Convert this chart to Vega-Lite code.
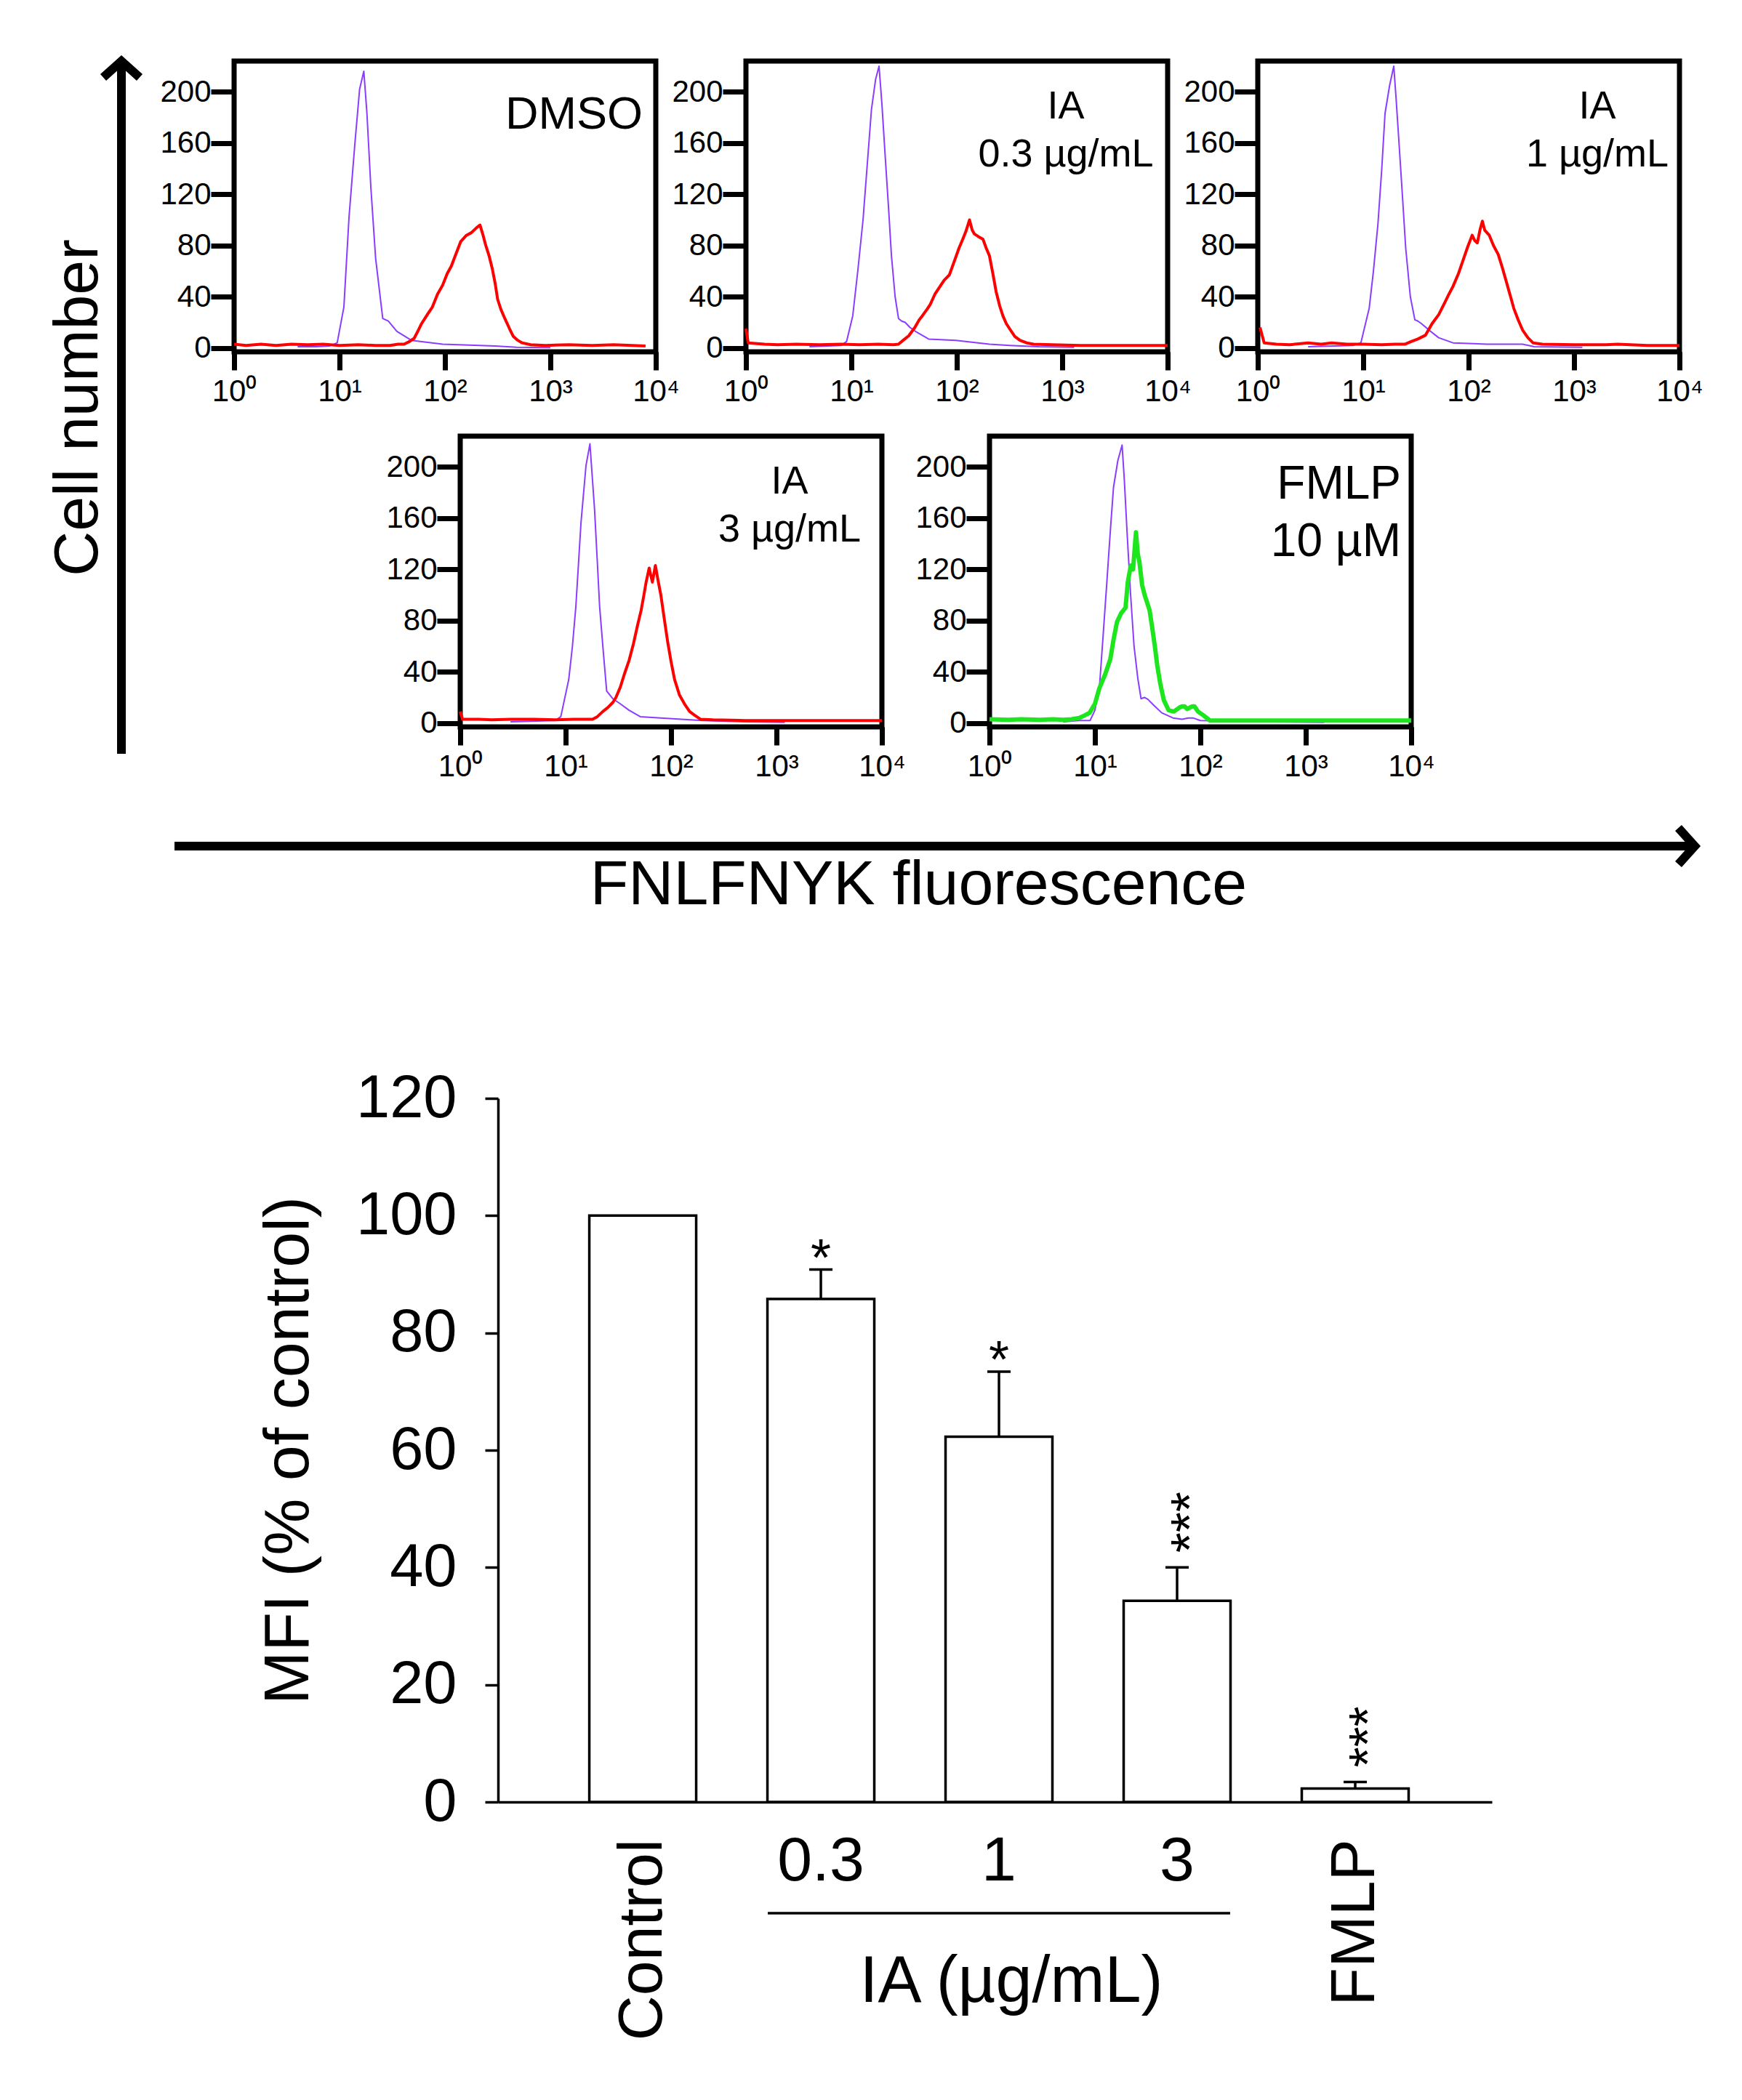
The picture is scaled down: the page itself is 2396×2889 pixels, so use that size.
{
  "$schema": "https://vega.github.io/schema/vega-lite/v6.json",
  "background": "white",
  "padding": {"left": 64, "top": 60, "right": 20, "bottom": 20},
  "config": {
    "font": "Liberation Sans",
    "view": {"stroke": "black", "strokeWidth": 7},
    "axis": {"grid": false, "domain": false, "labelFont": "Liberation Sans", "labelColor": "black", "tickColor": "black", "titleColor": "black", "titleFont": "Liberation Sans", "titleFontWeight": "normal", "labelFlush": false, "labelOverlap": false},
    "axisX": {"tickSize": 25, "tickWidth": 7, "labelFontSize": 42, "labelPadding": 9},
    "axisY": {"tickSize": 32, "tickWidth": 7, "labelFontSize": 42, "labelPadding": 0},
    "title": {"font": "Liberation Sans", "fontWeight": "normal", "color": "black", "offset": 0}
  },
  "datasets": {
    "arrow": [{"from": 0, "to": 1}],
    "mfi": [
      {"group": "Control", "mfi": 100, "upper": null, "sig": null},
      {"group": "0.3", "mfi": 85.8, "upper": 90.8, "sig": "*"},
      {"group": "1", "mfi": 62.3, "upper": 73.4, "sig": "*"},
      {"group": "3", "mfi": 34.3, "upper": 40.0, "sig": "***"},
      {"group": "FMLP", "mfi": 2.3, "upper": 3.4, "sig": "***"}
    ],
    "ia": [{"from": "0.3", "to": "3", "mid": "1", "label": "IA (µg/mL)"}],
    "hist": [
      {"panel": "DMSO", "series": "ctrl", "x": 4, "y": 1},
      {"panel": "DMSO", "series": "ctrl", "x": 6, "y": 1},
      {"panel": "DMSO", "series": "ctrl", "x": 8, "y": 1.5},
      {"panel": "DMSO", "series": "ctrl", "x": 9.5, "y": 4},
      {"panel": "DMSO", "series": "ctrl", "x": 11, "y": 32},
      {"panel": "DMSO", "series": "ctrl", "x": 12.3, "y": 102},
      {"panel": "DMSO", "series": "ctrl", "x": 13.9, "y": 157},
      {"panel": "DMSO", "series": "ctrl", "x": 15.5, "y": 202},
      {"panel": "DMSO", "series": "ctrl", "x": 17, "y": 216},
      {"panel": "DMSO", "series": "ctrl", "x": 18.2, "y": 183},
      {"panel": "DMSO", "series": "ctrl", "x": 19.8, "y": 126},
      {"panel": "DMSO", "series": "ctrl", "x": 22, "y": 70},
      {"panel": "DMSO", "series": "ctrl", "x": 25.7, "y": 23},
      {"panel": "DMSO", "series": "ctrl", "x": 29, "y": 21},
      {"panel": "DMSO", "series": "ctrl", "x": 35, "y": 13},
      {"panel": "DMSO", "series": "ctrl", "x": 48, "y": 6},
      {"panel": "DMSO", "series": "ctrl", "x": 95, "y": 3},
      {"panel": "DMSO", "series": "ctrl", "x": 300, "y": 1.5},
      {"panel": "DMSO", "series": "ctrl", "x": 480, "y": 0.5},
      {"panel": "DMSO", "series": "ctrl", "x": 1000, "y": 0.3},
      {"panel": "DMSO", "series": "treat", "x": 1, "y": 3},
      {"panel": "DMSO", "series": "treat", "x": 1.3, "y": 2},
      {"panel": "DMSO", "series": "treat", "x": 1.8, "y": 3},
      {"panel": "DMSO", "series": "treat", "x": 2.5, "y": 2},
      {"panel": "DMSO", "series": "treat", "x": 3.5, "y": 3},
      {"panel": "DMSO", "series": "treat", "x": 5, "y": 2.5},
      {"panel": "DMSO", "series": "treat", "x": 7, "y": 3},
      {"panel": "DMSO", "series": "treat", "x": 10, "y": 2},
      {"panel": "DMSO", "series": "treat", "x": 15, "y": 2.5},
      {"panel": "DMSO", "series": "treat", "x": 22, "y": 2},
      {"panel": "DMSO", "series": "treat", "x": 30, "y": 2},
      {"panel": "DMSO", "series": "treat", "x": 36, "y": 3},
      {"panel": "DMSO", "series": "treat", "x": 41, "y": 3},
      {"panel": "DMSO", "series": "treat", "x": 46, "y": 5},
      {"panel": "DMSO", "series": "treat", "x": 51, "y": 7.5},
      {"panel": "DMSO", "series": "treat", "x": 56, "y": 14},
      {"panel": "DMSO", "series": "treat", "x": 60, "y": 19},
      {"panel": "DMSO", "series": "treat", "x": 68, "y": 26},
      {"panel": "DMSO", "series": "treat", "x": 76, "y": 32},
      {"panel": "DMSO", "series": "treat", "x": 85, "y": 42},
      {"panel": "DMSO", "series": "treat", "x": 95, "y": 49},
      {"panel": "DMSO", "series": "treat", "x": 105, "y": 58},
      {"panel": "DMSO", "series": "treat", "x": 115, "y": 64},
      {"panel": "DMSO", "series": "treat", "x": 128, "y": 74},
      {"panel": "DMSO", "series": "treat", "x": 141, "y": 83},
      {"panel": "DMSO", "series": "treat", "x": 160, "y": 88},
      {"panel": "DMSO", "series": "treat", "x": 178, "y": 90},
      {"panel": "DMSO", "series": "treat", "x": 200, "y": 94},
      {"panel": "DMSO", "series": "treat", "x": 215, "y": 96},
      {"panel": "DMSO", "series": "treat", "x": 230, "y": 88},
      {"panel": "DMSO", "series": "treat", "x": 242, "y": 81},
      {"panel": "DMSO", "series": "treat", "x": 262, "y": 72},
      {"panel": "DMSO", "series": "treat", "x": 281, "y": 62},
      {"panel": "DMSO", "series": "treat", "x": 300, "y": 50},
      {"panel": "DMSO", "series": "treat", "x": 316, "y": 38},
      {"panel": "DMSO", "series": "treat", "x": 340, "y": 30},
      {"panel": "DMSO", "series": "treat", "x": 370, "y": 23},
      {"panel": "DMSO", "series": "treat", "x": 410, "y": 15},
      {"panel": "DMSO", "series": "treat", "x": 445, "y": 9},
      {"panel": "DMSO", "series": "treat", "x": 490, "y": 6},
      {"panel": "DMSO", "series": "treat", "x": 540, "y": 4},
      {"panel": "DMSO", "series": "treat", "x": 650, "y": 2.5},
      {"panel": "DMSO", "series": "treat", "x": 900, "y": 2},
      {"panel": "DMSO", "series": "treat", "x": 1500, "y": 2.5},
      {"panel": "DMSO", "series": "treat", "x": 2500, "y": 2},
      {"panel": "DMSO", "series": "treat", "x": 4000, "y": 2.5},
      {"panel": "DMSO", "series": "treat", "x": 6000, "y": 2},
      {"panel": "DMSO", "series": "treat", "x": 8000, "y": 1.5},
      {"panel": "IA03", "series": "ctrl", "x": 4, "y": 1},
      {"panel": "IA03", "series": "ctrl", "x": 8, "y": 2},
      {"panel": "IA03", "series": "ctrl", "x": 9, "y": 5},
      {"panel": "IA03", "series": "ctrl", "x": 10.3, "y": 25},
      {"panel": "IA03", "series": "ctrl", "x": 11.5, "y": 60},
      {"panel": "IA03", "series": "ctrl", "x": 12.9, "y": 100},
      {"panel": "IA03", "series": "ctrl", "x": 14.2, "y": 145},
      {"panel": "IA03", "series": "ctrl", "x": 15.5, "y": 186},
      {"panel": "IA03", "series": "ctrl", "x": 17, "y": 210},
      {"panel": "IA03", "series": "ctrl", "x": 18.3, "y": 220},
      {"panel": "IA03", "series": "ctrl", "x": 19.5, "y": 190},
      {"panel": "IA03", "series": "ctrl", "x": 21, "y": 148},
      {"panel": "IA03", "series": "ctrl", "x": 22.5, "y": 110},
      {"panel": "IA03", "series": "ctrl", "x": 24, "y": 72},
      {"panel": "IA03", "series": "ctrl", "x": 26, "y": 40},
      {"panel": "IA03", "series": "ctrl", "x": 28, "y": 23},
      {"panel": "IA03", "series": "ctrl", "x": 30, "y": 21},
      {"panel": "IA03", "series": "ctrl", "x": 32.4, "y": 20},
      {"panel": "IA03", "series": "ctrl", "x": 36, "y": 16},
      {"panel": "IA03", "series": "ctrl", "x": 40.5, "y": 13},
      {"panel": "IA03", "series": "ctrl", "x": 54, "y": 7},
      {"panel": "IA03", "series": "ctrl", "x": 98, "y": 6},
      {"panel": "IA03", "series": "ctrl", "x": 204, "y": 3},
      {"panel": "IA03", "series": "ctrl", "x": 317, "y": 2},
      {"panel": "IA03", "series": "ctrl", "x": 600, "y": 1},
      {"panel": "IA03", "series": "ctrl", "x": 1300, "y": 0.5},
      {"panel": "IA03", "series": "treat", "x": 1, "y": 15},
      {"panel": "IA03", "series": "treat", "x": 1.05, "y": 4},
      {"panel": "IA03", "series": "treat", "x": 1.5, "y": 3},
      {"panel": "IA03", "series": "treat", "x": 2, "y": 2.5},
      {"panel": "IA03", "series": "treat", "x": 3, "y": 3},
      {"panel": "IA03", "series": "treat", "x": 5, "y": 2.5},
      {"panel": "IA03", "series": "treat", "x": 8, "y": 3},
      {"panel": "IA03", "series": "treat", "x": 12, "y": 2.5},
      {"panel": "IA03", "series": "treat", "x": 18, "y": 3},
      {"panel": "IA03", "series": "treat", "x": 25, "y": 2.5},
      {"panel": "IA03", "series": "treat", "x": 28, "y": 3},
      {"panel": "IA03", "series": "treat", "x": 31, "y": 6},
      {"panel": "IA03", "series": "treat", "x": 35, "y": 9.5},
      {"panel": "IA03", "series": "treat", "x": 40, "y": 16},
      {"panel": "IA03", "series": "treat", "x": 44, "y": 22},
      {"panel": "IA03", "series": "treat", "x": 47, "y": 25},
      {"panel": "IA03", "series": "treat", "x": 52, "y": 30},
      {"panel": "IA03", "series": "treat", "x": 56, "y": 34},
      {"panel": "IA03", "series": "treat", "x": 62, "y": 42},
      {"panel": "IA03", "series": "treat", "x": 68, "y": 47},
      {"panel": "IA03", "series": "treat", "x": 76, "y": 53},
      {"panel": "IA03", "series": "treat", "x": 85, "y": 57},
      {"panel": "IA03", "series": "treat", "x": 95, "y": 68},
      {"panel": "IA03", "series": "treat", "x": 105, "y": 78},
      {"panel": "IA03", "series": "treat", "x": 114, "y": 85},
      {"panel": "IA03", "series": "treat", "x": 122, "y": 91},
      {"panel": "IA03", "series": "treat", "x": 132, "y": 100},
      {"panel": "IA03", "series": "treat", "x": 140, "y": 92},
      {"panel": "IA03", "series": "treat", "x": 147, "y": 89},
      {"panel": "IA03", "series": "treat", "x": 160, "y": 87},
      {"panel": "IA03", "series": "treat", "x": 177, "y": 85},
      {"panel": "IA03", "series": "treat", "x": 190, "y": 78},
      {"panel": "IA03", "series": "treat", "x": 204, "y": 72},
      {"panel": "IA03", "series": "treat", "x": 220, "y": 58},
      {"panel": "IA03", "series": "treat", "x": 236, "y": 44},
      {"panel": "IA03", "series": "treat", "x": 255, "y": 33},
      {"panel": "IA03", "series": "treat", "x": 274, "y": 25},
      {"panel": "IA03", "series": "treat", "x": 295, "y": 19},
      {"panel": "IA03", "series": "treat", "x": 317, "y": 15},
      {"panel": "IA03", "series": "treat", "x": 355, "y": 9},
      {"panel": "IA03", "series": "treat", "x": 397, "y": 6},
      {"panel": "IA03", "series": "treat", "x": 460, "y": 4},
      {"panel": "IA03", "series": "treat", "x": 535, "y": 3},
      {"panel": "IA03", "series": "treat", "x": 800, "y": 2.5},
      {"panel": "IA03", "series": "treat", "x": 1500, "y": 2},
      {"panel": "IA03", "series": "treat", "x": 3000, "y": 2},
      {"panel": "IA03", "series": "treat", "x": 6000, "y": 2},
      {"panel": "IA03", "series": "treat", "x": 10000, "y": 2},
      {"panel": "IA1", "series": "ctrl", "x": 3, "y": 1},
      {"panel": "IA1", "series": "ctrl", "x": 8, "y": 2},
      {"panel": "IA1", "series": "ctrl", "x": 9.5, "y": 4},
      {"panel": "IA1", "series": "ctrl", "x": 11.4, "y": 31},
      {"panel": "IA1", "series": "ctrl", "x": 12.5, "y": 60},
      {"panel": "IA1", "series": "ctrl", "x": 13.8, "y": 97},
      {"panel": "IA1", "series": "ctrl", "x": 15, "y": 140},
      {"panel": "IA1", "series": "ctrl", "x": 16.1, "y": 183},
      {"panel": "IA1", "series": "ctrl", "x": 17.8, "y": 205},
      {"panel": "IA1", "series": "ctrl", "x": 19.5, "y": 220},
      {"panel": "IA1", "series": "ctrl", "x": 20.5, "y": 195},
      {"panel": "IA1", "series": "ctrl", "x": 21.7, "y": 164},
      {"panel": "IA1", "series": "ctrl", "x": 23.5, "y": 120},
      {"panel": "IA1", "series": "ctrl", "x": 25.3, "y": 78},
      {"panel": "IA1", "series": "ctrl", "x": 28, "y": 40},
      {"panel": "IA1", "series": "ctrl", "x": 30.9, "y": 22},
      {"panel": "IA1", "series": "ctrl", "x": 33, "y": 21},
      {"panel": "IA1", "series": "ctrl", "x": 35.7, "y": 19},
      {"panel": "IA1", "series": "ctrl", "x": 42, "y": 14},
      {"panel": "IA1", "series": "ctrl", "x": 52, "y": 8},
      {"panel": "IA1", "series": "ctrl", "x": 71, "y": 4},
      {"panel": "IA1", "series": "ctrl", "x": 150, "y": 3},
      {"panel": "IA1", "series": "ctrl", "x": 325, "y": 3},
      {"panel": "IA1", "series": "ctrl", "x": 420, "y": 1},
      {"panel": "IA1", "series": "ctrl", "x": 1200, "y": 0.5},
      {"panel": "IA1", "series": "treat", "x": 1.05, "y": 16},
      {"panel": "IA1", "series": "treat", "x": 1.15, "y": 4},
      {"panel": "IA1", "series": "treat", "x": 1.5, "y": 3},
      {"panel": "IA1", "series": "treat", "x": 2, "y": 2.5},
      {"panel": "IA1", "series": "treat", "x": 3, "y": 4},
      {"panel": "IA1", "series": "treat", "x": 4, "y": 3},
      {"panel": "IA1", "series": "treat", "x": 5, "y": 4},
      {"panel": "IA1", "series": "treat", "x": 7, "y": 3},
      {"panel": "IA1", "series": "treat", "x": 10, "y": 3},
      {"panel": "IA1", "series": "treat", "x": 15, "y": 2.5},
      {"panel": "IA1", "series": "treat", "x": 20, "y": 3},
      {"panel": "IA1", "series": "treat", "x": 25, "y": 3},
      {"panel": "IA1", "series": "treat", "x": 28.5, "y": 5},
      {"panel": "IA1", "series": "treat", "x": 33, "y": 7},
      {"panel": "IA1", "series": "treat", "x": 39, "y": 10},
      {"panel": "IA1", "series": "treat", "x": 45, "y": 19},
      {"panel": "IA1", "series": "treat", "x": 52, "y": 26},
      {"panel": "IA1", "series": "treat", "x": 59, "y": 35},
      {"panel": "IA1", "series": "treat", "x": 65, "y": 42},
      {"panel": "IA1", "series": "treat", "x": 71, "y": 48},
      {"panel": "IA1", "series": "treat", "x": 80, "y": 58},
      {"panel": "IA1", "series": "treat", "x": 89, "y": 69},
      {"panel": "IA1", "series": "treat", "x": 98, "y": 79},
      {"panel": "IA1", "series": "treat", "x": 108, "y": 88},
      {"panel": "IA1", "series": "treat", "x": 114, "y": 84},
      {"panel": "IA1", "series": "treat", "x": 121, "y": 82},
      {"panel": "IA1", "series": "treat", "x": 128, "y": 92},
      {"panel": "IA1", "series": "treat", "x": 135, "y": 99},
      {"panel": "IA1", "series": "treat", "x": 142, "y": 92},
      {"panel": "IA1", "series": "treat", "x": 157, "y": 88},
      {"panel": "IA1", "series": "treat", "x": 172, "y": 80},
      {"panel": "IA1", "series": "treat", "x": 191, "y": 73},
      {"panel": "IA1", "series": "treat", "x": 210, "y": 62},
      {"panel": "IA1", "series": "treat", "x": 231, "y": 50},
      {"panel": "IA1", "series": "treat", "x": 250, "y": 40},
      {"panel": "IA1", "series": "treat", "x": 268, "y": 31},
      {"panel": "IA1", "series": "treat", "x": 295, "y": 22},
      {"panel": "IA1", "series": "treat", "x": 325, "y": 14},
      {"panel": "IA1", "series": "treat", "x": 365, "y": 8},
      {"panel": "IA1", "series": "treat", "x": 408, "y": 4},
      {"panel": "IA1", "series": "treat", "x": 500, "y": 3},
      {"panel": "IA1", "series": "treat", "x": 1000, "y": 2.5},
      {"panel": "IA1", "series": "treat", "x": 2000, "y": 2.5},
      {"panel": "IA1", "series": "treat", "x": 2600, "y": 3},
      {"panel": "IA1", "series": "treat", "x": 5000, "y": 2},
      {"panel": "IA1", "series": "treat", "x": 10000, "y": 2},
      {"panel": "IA3", "series": "ctrl", "x": 3, "y": 1},
      {"panel": "IA3", "series": "ctrl", "x": 8, "y": 2},
      {"panel": "IA3", "series": "ctrl", "x": 9, "y": 5},
      {"panel": "IA3", "series": "ctrl", "x": 10.7, "y": 34},
      {"panel": "IA3", "series": "ctrl", "x": 11.6, "y": 60},
      {"panel": "IA3", "series": "ctrl", "x": 12.5, "y": 91},
      {"panel": "IA3", "series": "ctrl", "x": 14, "y": 157},
      {"panel": "IA3", "series": "ctrl", "x": 15.6, "y": 201},
      {"panel": "IA3", "series": "ctrl", "x": 17, "y": 218},
      {"panel": "IA3", "series": "ctrl", "x": 18.8, "y": 167},
      {"panel": "IA3", "series": "ctrl", "x": 20, "y": 125},
      {"panel": "IA3", "series": "ctrl", "x": 21, "y": 91},
      {"panel": "IA3", "series": "ctrl", "x": 22.8, "y": 55},
      {"panel": "IA3", "series": "ctrl", "x": 24.5, "y": 25},
      {"panel": "IA3", "series": "ctrl", "x": 28, "y": 19},
      {"panel": "IA3", "series": "ctrl", "x": 33, "y": 15},
      {"panel": "IA3", "series": "ctrl", "x": 40, "y": 10},
      {"panel": "IA3", "series": "ctrl", "x": 51, "y": 5},
      {"panel": "IA3", "series": "ctrl", "x": 125, "y": 3},
      {"panel": "IA3", "series": "ctrl", "x": 200, "y": 2},
      {"panel": "IA3", "series": "ctrl", "x": 500, "y": 1},
      {"panel": "IA3", "series": "ctrl", "x": 1200, "y": 0.5},
      {"panel": "IA3", "series": "treat", "x": 1, "y": 9},
      {"panel": "IA3", "series": "treat", "x": 1.05, "y": 3},
      {"panel": "IA3", "series": "treat", "x": 1.5, "y": 3},
      {"panel": "IA3", "series": "treat", "x": 2, "y": 2.5},
      {"panel": "IA3", "series": "treat", "x": 3, "y": 3},
      {"panel": "IA3", "series": "treat", "x": 5, "y": 3},
      {"panel": "IA3", "series": "treat", "x": 8, "y": 2.5},
      {"panel": "IA3", "series": "treat", "x": 12, "y": 3},
      {"panel": "IA3", "series": "treat", "x": 18, "y": 3},
      {"panel": "IA3", "series": "treat", "x": 20, "y": 5},
      {"panel": "IA3", "series": "treat", "x": 22.5, "y": 9},
      {"panel": "IA3", "series": "treat", "x": 25, "y": 12},
      {"panel": "IA3", "series": "treat", "x": 28, "y": 16},
      {"panel": "IA3", "series": "treat", "x": 30, "y": 20},
      {"panel": "IA3", "series": "treat", "x": 33, "y": 28},
      {"panel": "IA3", "series": "treat", "x": 36, "y": 38},
      {"panel": "IA3", "series": "treat", "x": 40, "y": 49},
      {"panel": "IA3", "series": "treat", "x": 44, "y": 62},
      {"panel": "IA3", "series": "treat", "x": 48, "y": 76},
      {"panel": "IA3", "series": "treat", "x": 52, "y": 88},
      {"panel": "IA3", "series": "treat", "x": 55, "y": 99},
      {"panel": "IA3", "series": "treat", "x": 58, "y": 110},
      {"panel": "IA3", "series": "treat", "x": 62, "y": 121},
      {"panel": "IA3", "series": "treat", "x": 66.5, "y": 110},
      {"panel": "IA3", "series": "treat", "x": 71, "y": 123},
      {"panel": "IA3", "series": "treat", "x": 75, "y": 112},
      {"panel": "IA3", "series": "treat", "x": 80, "y": 100},
      {"panel": "IA3", "series": "treat", "x": 86, "y": 82},
      {"panel": "IA3", "series": "treat", "x": 93, "y": 63},
      {"panel": "IA3", "series": "treat", "x": 100, "y": 48},
      {"panel": "IA3", "series": "treat", "x": 108, "y": 34},
      {"panel": "IA3", "series": "treat", "x": 120, "y": 22},
      {"panel": "IA3", "series": "treat", "x": 134, "y": 15},
      {"panel": "IA3", "series": "treat", "x": 150, "y": 9},
      {"panel": "IA3", "series": "treat", "x": 168, "y": 6},
      {"panel": "IA3", "series": "treat", "x": 190, "y": 3},
      {"panel": "IA3", "series": "treat", "x": 250, "y": 2.5},
      {"panel": "IA3", "series": "treat", "x": 500, "y": 2},
      {"panel": "IA3", "series": "treat", "x": 1000, "y": 2},
      {"panel": "IA3", "series": "treat", "x": 3000, "y": 2},
      {"panel": "IA3", "series": "treat", "x": 10000, "y": 2},
      {"panel": "FMLP", "series": "ctrl", "x": 5, "y": 1},
      {"panel": "FMLP", "series": "ctrl", "x": 7, "y": 2},
      {"panel": "FMLP", "series": "ctrl", "x": 9, "y": 2},
      {"panel": "FMLP", "series": "ctrl", "x": 10, "y": 10},
      {"panel": "FMLP", "series": "ctrl", "x": 11.1, "y": 31},
      {"panel": "FMLP", "series": "ctrl", "x": 12, "y": 70},
      {"panel": "FMLP", "series": "ctrl", "x": 12.9, "y": 107},
      {"panel": "FMLP", "series": "ctrl", "x": 14, "y": 150},
      {"panel": "FMLP", "series": "ctrl", "x": 15, "y": 184},
      {"panel": "FMLP", "series": "ctrl", "x": 16.5, "y": 205},
      {"panel": "FMLP", "series": "ctrl", "x": 18.1, "y": 217},
      {"panel": "FMLP", "series": "ctrl", "x": 19, "y": 190},
      {"panel": "FMLP", "series": "ctrl", "x": 20.3, "y": 145},
      {"panel": "FMLP", "series": "ctrl", "x": 21.8, "y": 100},
      {"panel": "FMLP", "series": "ctrl", "x": 23.5, "y": 60},
      {"panel": "FMLP", "series": "ctrl", "x": 25.5, "y": 35},
      {"panel": "FMLP", "series": "ctrl", "x": 27.4, "y": 19},
      {"panel": "FMLP", "series": "ctrl", "x": 29.5, "y": 20},
      {"panel": "FMLP", "series": "ctrl", "x": 31.8, "y": 18.5},
      {"panel": "FMLP", "series": "ctrl", "x": 36, "y": 14},
      {"panel": "FMLP", "series": "ctrl", "x": 43, "y": 8},
      {"panel": "FMLP", "series": "ctrl", "x": 55, "y": 4},
      {"panel": "FMLP", "series": "ctrl", "x": 67, "y": 3},
      {"panel": "FMLP", "series": "ctrl", "x": 77, "y": 4},
      {"panel": "FMLP", "series": "ctrl", "x": 85, "y": 4},
      {"panel": "FMLP", "series": "ctrl", "x": 100, "y": 2},
      {"panel": "FMLP", "series": "ctrl", "x": 200, "y": 1.5},
      {"panel": "FMLP", "series": "ctrl", "x": 500, "y": 1},
      {"panel": "FMLP", "series": "ctrl", "x": 1500, "y": 0.5},
      {"panel": "FMLP", "series": "fmlp", "x": 1, "y": 3},
      {"panel": "FMLP", "series": "fmlp", "x": 1.5, "y": 2.5},
      {"panel": "FMLP", "series": "fmlp", "x": 2, "y": 3},
      {"panel": "FMLP", "series": "fmlp", "x": 3, "y": 2.5},
      {"panel": "FMLP", "series": "fmlp", "x": 4, "y": 3},
      {"panel": "FMLP", "series": "fmlp", "x": 5, "y": 2.5},
      {"panel": "FMLP", "series": "fmlp", "x": 6, "y": 3},
      {"panel": "FMLP", "series": "fmlp", "x": 7.1, "y": 4},
      {"panel": "FMLP", "series": "fmlp", "x": 8, "y": 6},
      {"panel": "FMLP", "series": "fmlp", "x": 8.9, "y": 8},
      {"panel": "FMLP", "series": "fmlp", "x": 10, "y": 15},
      {"panel": "FMLP", "series": "fmlp", "x": 11, "y": 27},
      {"panel": "FMLP", "series": "fmlp", "x": 12.5, "y": 38},
      {"panel": "FMLP", "series": "fmlp", "x": 14, "y": 50},
      {"panel": "FMLP", "series": "fmlp", "x": 15, "y": 65},
      {"panel": "FMLP", "series": "fmlp", "x": 16.2, "y": 79},
      {"panel": "FMLP", "series": "fmlp", "x": 17.8, "y": 86},
      {"panel": "FMLP", "series": "fmlp", "x": 19.5, "y": 90},
      {"panel": "FMLP", "series": "fmlp", "x": 20.5, "y": 110},
      {"panel": "FMLP", "series": "fmlp", "x": 21.9, "y": 123},
      {"panel": "FMLP", "series": "fmlp", "x": 23, "y": 120},
      {"panel": "FMLP", "series": "fmlp", "x": 24.5, "y": 149},
      {"panel": "FMLP", "series": "fmlp", "x": 25.5, "y": 132},
      {"panel": "FMLP", "series": "fmlp", "x": 26.4, "y": 126},
      {"panel": "FMLP", "series": "fmlp", "x": 28, "y": 108},
      {"panel": "FMLP", "series": "fmlp", "x": 29.6, "y": 100},
      {"panel": "FMLP", "series": "fmlp", "x": 31, "y": 95},
      {"panel": "FMLP", "series": "fmlp", "x": 33, "y": 88},
      {"panel": "FMLP", "series": "fmlp", "x": 35, "y": 74},
      {"panel": "FMLP", "series": "fmlp", "x": 37, "y": 60},
      {"panel": "FMLP", "series": "fmlp", "x": 39, "y": 45},
      {"panel": "FMLP", "series": "fmlp", "x": 41.6, "y": 31},
      {"panel": "FMLP", "series": "fmlp", "x": 45, "y": 18},
      {"panel": "FMLP", "series": "fmlp", "x": 50, "y": 10},
      {"panel": "FMLP", "series": "fmlp", "x": 56, "y": 9},
      {"panel": "FMLP", "series": "fmlp", "x": 63, "y": 12},
      {"panel": "FMLP", "series": "fmlp", "x": 67, "y": 13},
      {"panel": "FMLP", "series": "fmlp", "x": 71, "y": 13},
      {"panel": "FMLP", "series": "fmlp", "x": 75, "y": 11},
      {"panel": "FMLP", "series": "fmlp", "x": 79, "y": 12},
      {"panel": "FMLP", "series": "fmlp", "x": 84, "y": 13},
      {"panel": "FMLP", "series": "fmlp", "x": 88, "y": 13},
      {"panel": "FMLP", "series": "fmlp", "x": 95, "y": 9},
      {"panel": "FMLP", "series": "fmlp", "x": 107, "y": 6},
      {"panel": "FMLP", "series": "fmlp", "x": 123, "y": 2},
      {"panel": "FMLP", "series": "fmlp", "x": 200, "y": 2},
      {"panel": "FMLP", "series": "fmlp", "x": 500, "y": 2},
      {"panel": "FMLP", "series": "fmlp", "x": 1000, "y": 2},
      {"panel": "FMLP", "series": "fmlp", "x": 3000, "y": 2},
      {"panel": "FMLP", "series": "fmlp", "x": 10000, "y": 2}
    ]
  },
  "spacing": 210,
  "vconcat": [
    {
      "spacing": 36,
      "vconcat": [
        {
          "spacing": 0,
          "hconcat": [
            {
              "width": 52,
              "height": 953,
              "view": {"stroke": null},
              "data": {"name": "arrow"},
              "layer": [
                {
                  "mark": {"type": "rule", "strokeWidth": 12, "color": "black"},
                  "encoding": {
                    "y": {"field": "from", "type": "quantitative", "scale": {"domain": [0, 1], "nice": false}, "axis": {"title": "Cell number", "labels": false, "ticks": false, "domain": false, "titleFontSize": 86, "titlePadding": -10}},
                    "y2": {"field": "to"}
                  }
                },
                {
                  "mark": {"type": "point", "shape": "M -1 0.9 L 0 0 L 1 0.9", "size": 2500, "filled": false, "stroke": "black", "strokeWidth": 12, "opacity": 1, "strokeJoin": "miter"},
                  "encoding": {"y": {"field": "to", "type": "quantitative"}}
                }
              ]
            },
            {
              "spacing": 33,
              "vconcat": [
                {
                  "bounds": "flush",
                  "spacing": 124,
                  "hconcat": [
                    {
                      "width": 580, "height": 400,
                      "data": {"name": "hist"},
                      "transform": [{"filter": "datum.panel === 'DMSO'"}],
                      "title": {"text": "DMSO", "anchor": "end", "frame": "group", "align": "right", "baseline": "top", "dx": -18, "dy": 110, "fontSize": 63},
                      "mark": {"type": "line", "strokeJoin": "round"},
                      "encoding": {
                        "x": {"field": "x", "type": "quantitative", "scale": {"type": "log", "domain": [1, 10000], "nice": false}, "axis": {"values": [1, 10, 100, 1000, 10000], "labelExpr": "'10' + ['⁰','¹','²','³','⁴'][round(log(datum.value) / LN10)]", "title": null}},
                        "y": {"field": "y", "type": "quantitative", "scale": {"domain": [-3, 224], "nice": false, "zero": false}, "axis": {"values": [0, 40, 80, 120, 160, 200], "title": null}},
                        "color": {"field": "series", "type": "nominal", "scale": {"domain": ["ctrl", "treat", "fmlp"], "range": ["#8b3dff", "#ff0000", "#1ee61e"]}, "legend": null},
                        "strokeWidth": {"field": "series", "type": "ordinal", "scale": {"domain": ["ctrl", "treat", "fmlp"], "range": [2, 6, 6]}, "legend": null}
                      }
                    },
                    {
                      "width": 580, "height": 400,
                      "data": {"name": "hist"},
                      "transform": [{"filter": "datum.panel === 'IA03'"}],
                      "title": {"text": ["IA", "0.3 µg/mL"], "anchor": "end", "frame": "group", "align": "center", "baseline": "top", "dx": -140, "dy": 160, "fontSize": 54, "lineHeight": 66},
                      "mark": {"type": "line", "strokeJoin": "round"},
                      "encoding": {
                        "x": {"field": "x", "type": "quantitative", "scale": {"type": "log", "domain": [1, 10000], "nice": false}, "axis": {"values": [1, 10, 100, 1000, 10000], "labelExpr": "'10' + ['⁰','¹','²','³','⁴'][round(log(datum.value) / LN10)]", "title": null}},
                        "y": {"field": "y", "type": "quantitative", "scale": {"domain": [-3, 224], "nice": false, "zero": false}, "axis": {"values": [0, 40, 80, 120, 160, 200], "title": null}},
                        "color": {"field": "series", "type": "nominal", "scale": {"domain": ["ctrl", "treat", "fmlp"], "range": ["#8b3dff", "#ff0000", "#1ee61e"]}, "legend": null},
                        "strokeWidth": {"field": "series", "type": "ordinal", "scale": {"domain": ["ctrl", "treat", "fmlp"], "range": [2, 6, 6]}, "legend": null}
                      }
                    },
                    {
                      "width": 580, "height": 400,
                      "data": {"name": "hist"},
                      "transform": [{"filter": "datum.panel === 'IA1'"}],
                      "title": {"text": ["IA", "1 µg/mL"], "anchor": "end", "frame": "group", "align": "center", "baseline": "top", "dx": -113, "dy": 160, "fontSize": 54, "lineHeight": 66},
                      "mark": {"type": "line", "strokeJoin": "round"},
                      "encoding": {
                        "x": {"field": "x", "type": "quantitative", "scale": {"type": "log", "domain": [1, 10000], "nice": false}, "axis": {"values": [1, 10, 100, 1000, 10000], "labelExpr": "'10' + ['⁰','¹','²','³','⁴'][round(log(datum.value) / LN10)]", "title": null}},
                        "y": {"field": "y", "type": "quantitative", "scale": {"domain": [-3, 224], "nice": false, "zero": false}, "axis": {"values": [0, 40, 80, 120, 160, 200], "title": null}},
                        "color": {"field": "series", "type": "nominal", "scale": {"domain": ["ctrl", "treat", "fmlp"], "range": ["#8b3dff", "#ff0000", "#1ee61e"]}, "legend": null},
                        "strokeWidth": {"field": "series", "type": "ordinal", "scale": {"domain": ["ctrl", "treat", "fmlp"], "range": [2, 6, 6]}, "legend": null}
                      }
                    }
                  ]
                },
                {
                  "bounds": "flush",
                  "spacing": 148,
                  "hconcat": [
                    {"width": 163, "height": 1, "view": {"stroke": null}, "data": {"values": []}, "mark": "point"},
                    {
                      "width": 580, "height": 400,
                      "data": {"name": "hist"},
                      "transform": [{"filter": "datum.panel === 'IA3'"}],
                      "title": {"text": ["IA", "3 µg/mL"], "anchor": "end", "frame": "group", "align": "center", "baseline": "top", "dx": -127, "dy": 160, "fontSize": 54, "lineHeight": 66},
                      "mark": {"type": "line", "strokeJoin": "round"},
                      "encoding": {
                        "x": {"field": "x", "type": "quantitative", "scale": {"type": "log", "domain": [1, 10000], "nice": false}, "axis": {"values": [1, 10, 100, 1000, 10000], "labelExpr": "'10' + ['⁰','¹','²','³','⁴'][round(log(datum.value) / LN10)]", "title": null}},
                        "y": {"field": "y", "type": "quantitative", "scale": {"domain": [-3, 224], "nice": false, "zero": false}, "axis": {"values": [0, 40, 80, 120, 160, 200], "title": null}},
                        "color": {"field": "series", "type": "nominal", "scale": {"domain": ["ctrl", "treat", "fmlp"], "range": ["#8b3dff", "#ff0000", "#1ee61e"]}, "legend": null},
                        "strokeWidth": {"field": "series", "type": "ordinal", "scale": {"domain": ["ctrl", "treat", "fmlp"], "range": [2, 6, 6]}, "legend": null}
                      }
                    },
                    {
                      "width": 580, "height": 400,
                      "data": {"name": "hist"},
                      "transform": [{"filter": "datum.panel === 'FMLP'"}],
                      "title": {"text": ["FMLP", "10 µM"], "anchor": "end", "frame": "group", "align": "right", "baseline": "top", "dx": -14, "dy": 182, "fontSize": 64, "lineHeight": 79},
                      "mark": {"type": "line", "strokeJoin": "round"},
                      "encoding": {
                        "x": {"field": "x", "type": "quantitative", "scale": {"type": "log", "domain": [1, 10000], "nice": false}, "axis": {"values": [1, 10, 100, 1000, 10000], "labelExpr": "'10' + ['⁰','¹','²','³','⁴'][round(log(datum.value) / LN10)]", "title": null}},
                        "y": {"field": "y", "type": "quantitative", "scale": {"domain": [-3, 224], "nice": false, "zero": false}, "axis": {"values": [0, 40, 80, 120, 160, 200], "title": null}},
                        "color": {"field": "series", "type": "nominal", "scale": {"domain": ["ctrl", "treat", "fmlp"], "range": ["#8b3dff", "#ff0000", "#1ee61e"]}, "legend": null},
                        "strokeWidth": {"field": "series", "type": "ordinal", "scale": {"domain": ["ctrl", "treat", "fmlp"], "range": [2, 6, 6]}, "legend": null}
                      }
                    }
                  ]
                }
              ]
            }
          ]
        },
        {
          "spacing": 0,
          "hconcat": [
            {"width": 93, "height": 1, "view": {"stroke": null}, "data": {"values": []}, "mark": "point"},
            {
              "width": 2091,
              "height": 2,
              "view": {"stroke": null},
              "data": {"name": "arrow"},
              "layer": [
                {
                  "mark": {"type": "rule", "strokeWidth": 12, "color": "black"},
                  "encoding": {
                    "x": {"field": "from", "type": "quantitative", "scale": {"domain": [0, 1], "nice": false}, "axis": {"title": "FNLFNYK fluorescence", "labels": false, "ticks": false, "domain": false, "titleFontSize": 86, "titlePadding": 10, "titleX": 1023}},
                    "x2": {"field": "to"}
                  }
                },
                {
                  "mark": {"type": "point", "shape": "M -0.9 -1 L 0 0 L -0.9 1", "size": 2500, "filled": false, "stroke": "black", "strokeWidth": 12, "opacity": 1, "strokeJoin": "miter"},
                  "encoding": {"x": {"field": "to", "type": "quantitative"}}
                }
              ]
            }
          ]
        }
      ]
    },
    {
      "spacing": 0,
      "hconcat": [
        {"width": 212, "height": 1, "view": {"stroke": null}, "data": {"values": []}, "mark": "point"},
        {
          "width": 1367,
          "height": 968,
          "view": {"stroke": null},
          "data": {"name": "mfi"},
          "layer": [
            {
              "mark": {"type": "bar", "fill": "white", "stroke": "black", "strokeWidth": 3.5},
              "encoding": {
                "x": {"field": "group", "type": "nominal", "sort": null, "scale": {"domain": ["Control", "0.3", "1", "3", "FMLP"], "paddingInner": 0.4, "paddingOuter": 0.49, "align": 0.523}, "axis": {"domain": true, "domainColor": "black", "domainWidth": 3.5, "ticks": false, "labels": false, "title": null}},
                "y": {"field": "mfi", "type": "quantitative", "title": "MFI (% of control)", "scale": {"domain": [0, 120], "nice": false}, "axis": {"domain": true, "domainColor": "black", "domainWidth": 3.5, "ticks": true, "tickSize": 18, "tickWidth": 3.5, "labelFontSize": 83, "labelPadding": 39, "values": [0, 20, 40, 60, 80, 100, 120], "titleFontSize": 88, "titlePadding": 48}}
              }
            },
            {
              "transform": [{"filter": "datum.upper != null"}],
              "mark": {"type": "rule", "color": "black", "strokeWidth": 3.5},
              "encoding": {
                "x": {"field": "group", "type": "nominal", "sort": null, "scale": {"domain": ["Control", "0.3", "1", "3", "FMLP"]}},
                "y": {"field": "mfi", "type": "quantitative", "title": "MFI (% of control)"},
                "y2": {"field": "upper"}
              }
            },
            {
              "transform": [{"filter": "datum.upper != null"}],
              "mark": {"type": "tick", "orient": "horizontal", "color": "black", "size": 32, "thickness": 3.5, "opacity": 1},
              "encoding": {
                "x": {"field": "group", "type": "nominal", "sort": null, "scale": {"domain": ["Control", "0.3", "1", "3", "FMLP"]}},
                "y": {"field": "upper", "type": "quantitative", "title": "MFI (% of control)"}
              }
            },
            {
              "transform": [{"filter": "datum.sig === '*'"}],
              "mark": {"type": "text", "fontSize": 72, "align": "center", "baseline": "alphabetic", "dy": 8, "color": "black"},
              "encoding": {
                "x": {"field": "group", "type": "nominal", "sort": null, "scale": {"domain": ["Control", "0.3", "1", "3", "FMLP"]}},
                "y": {"field": "upper", "type": "quantitative", "title": "MFI (% of control)"},
                "text": {"field": "sig"}
              }
            },
            {
              "transform": [{"filter": "datum.sig === '***'"}],
              "mark": {"type": "text", "fontSize": 72, "angle": 270, "align": "left", "baseline": "alphabetic", "dx": 20, "dy": 42, "color": "black"},
              "encoding": {
                "x": {"field": "group", "type": "nominal", "sort": null, "scale": {"domain": ["Control", "0.3", "1", "3", "FMLP"]}},
                "y": {"field": "upper", "type": "quantitative", "title": "MFI (% of control)"},
                "text": {"field": "sig"}
              }
            },
            {
              "transform": [{"filter": "datum.group !== 'Control' && datum.group !== 'FMLP'"}],
              "mark": {"type": "text", "fontSize": 86, "align": "center", "baseline": "middle", "dy": 82, "color": "black"},
              "encoding": {
                "x": {"field": "group", "type": "nominal", "sort": null, "scale": {"domain": ["Control", "0.3", "1", "3", "FMLP"]}},
                "y": {"datum": 0, "type": "quantitative"},
                "text": {"field": "group"}
              }
            },
            {
              "transform": [{"filter": "datum.group === 'Control' || datum.group === 'FMLP'"}],
              "mark": {"type": "text", "fontSize": 86, "angle": 270, "align": "right", "baseline": "middle", "dx": -51, "color": "black"},
              "encoding": {
                "x": {"field": "group", "type": "nominal", "sort": null, "scale": {"domain": ["Control", "0.3", "1", "3", "FMLP"]}},
                "y": {"datum": 0, "type": "quantitative"},
                "text": {"field": "group"}
              }
            },
            {
              "data": {"name": "ia"},
              "mark": {"type": "rule", "color": "black", "strokeWidth": 3.5, "xOffset": -73, "x2Offset": 73, "yOffset": 153},
              "encoding": {
                "x": {"field": "from", "type": "nominal", "sort": null, "scale": {"domain": ["Control", "0.3", "1", "3", "FMLP"]}},
                "x2": {"field": "to"},
                "y": {"datum": 0, "type": "quantitative"}
              }
            },
            {
              "data": {"name": "ia"},
              "mark": {"type": "text", "fontSize": 90, "align": "center", "baseline": "middle", "dx": 17, "dy": 248, "color": "black"},
              "encoding": {
                "x": {"field": "mid", "type": "nominal", "sort": null, "scale": {"domain": ["Control", "0.3", "1", "3", "FMLP"]}},
                "y": {"datum": 0, "type": "quantitative"},
                "text": {"field": "label"}
              }
            }
          ]
        }
      ]
    }
  ]
}
